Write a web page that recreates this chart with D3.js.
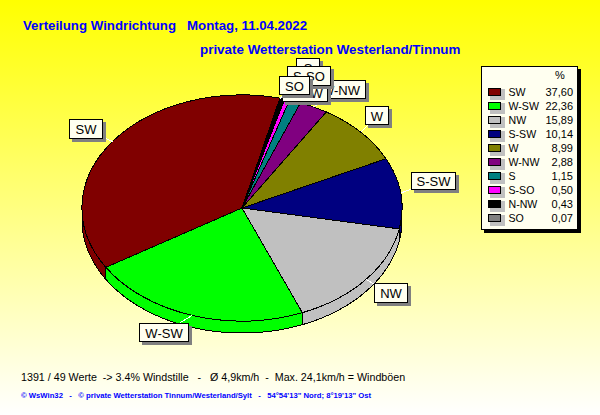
<!DOCTYPE html>
<html><head><meta charset="utf-8">
<script src="https://cdn.jsdelivr.net/npm/d3@7"></script>
<style>html,body{margin:0;padding:0}svg{display:block}text{font-family:"Liberation Sans",Arial,sans-serif}</style>
</head><body><svg id="c" width="600" height="415"></svg>
<script>
(function(){
const categories=["SW","W-SW","NW","S-SW","W","W-NW","S","S-SO","N-NW","SO"];
const percentValues=[37.60,22.36,15.89,10.14,8.99,2.88,1.15,0.50,0.43,0.07];
const percentLabels=["37,60","22,36","15,89","10,14","8,99","2,88","1,15","0,50","0,43","0,07"];
const sliceColors=["#800000","#00ff00","#c0c0c0","#000080","#808000","#800080","#008080","#ff00ff","#000000","#808080"];
const titleLine1="Verteilung Windrichtung   Montag, 11.04.2022";
const titleLine2="private Wetterstation Westerland/Tinnum";
const footer1="1391 / 49 Werte  -> 3.4% Windstille   -   Ø 4,9km/h  -  Max. 24,1km/h = Windböen";
const footer2="© WsWin32   -   © private Wetterstation Tinnum/Westerland/Sylt   -   54°54'13\" Nord; 8°19'13\" Ost";
// label boxes in stacking order: name, left, top, right, bottom
const labelBoxes=[["SW",69,119,103,139],["W-SW",139,323,189,342],["NW",374,283,408,303],["S-SW",411,172,456,190],["W",365,106,389,125],["W-NW",316,80,366,99],["S",296,58,320,78],["N-NW",282,83,328,102],["S-SO",287,66,331,86],["SO",279,76,310,95]];

const svg=d3.select("#c");
const defs=svg.append("defs");
const grad=defs.append("linearGradient").attr("id","bg").attr("x1",0).attr("y1",0).attr("x2",0).attr("y2",1);
grad.append("stop").attr("offset","0").attr("stop-color","#ffff00");
grad.append("stop").attr("offset","1").attr("stop-color","#ffffff");
svg.append("rect").attr("width",600).attr("height",415).attr("fill","url(#bg)");

svg.append("text").attr("x",23).attr("y",30).attr("fill","#0000ff").attr("font-weight","bold").attr("font-size",13.25).style("white-space","pre").text(titleLine1);
svg.append("text").attr("x",200).attr("y",54).attr("fill","#0000ff").attr("font-weight","bold").attr("font-size",13.4).style("white-space","pre").text(titleLine2);

const cx=242,cy=208,rx=160,ry=113,depth=12;
const startDeg=13.7;
const pie=d3.pie().sort(null).startAngle(startDeg*Math.PI/180).endAngle((startDeg-360)*Math.PI/180);
const arcs=pie(percentValues);
const xS=d3.scaleLinear().domain([-1,1]).range([cx-rx,cx+rx]);
const yS=d3.scaleLinear().domain([-1,1]).range([cy-ry,cy+ry]);
const px=a=>xS(Math.sin(a)), py=a=>yS(-Math.cos(a));
const chart=svg.append("g").attr("shape-rendering","crispEdges");

arcs.forEach((d,i)=>{
  const hi=d.startAngle, lo=d.endAngle;
  const pts=[];
  const n=Math.max(2,Math.ceil(Math.abs(hi-lo)*60));
  d3.range(n+1).forEach(k=>{
    const a=hi+(lo-hi)*k/n;
    if(Math.cos(a)<=0.02) pts.push(a);
  });
  if(pts.length<2) return;
  const upper=pts.map(a=>[px(a),py(a)]);
  const lower=pts.map(a=>[px(a),py(a)+depth]).reverse();
  chart.append("path").datum(upper.concat(lower)).attr("d",d3.line().curve(d3.curveLinearClosed))
    .attr("fill",sliceColors[i]).attr("stroke","#000").attr("stroke-width",1);
});
const arcGen=d3.arc().innerRadius(0).outerRadius(1);
const face=chart.append("g").attr("transform",`translate(${cx},${cy}) scale(${rx},${ry})`);
face.selectAll("path").data(arcs).join("path").attr("d",arcGen)
  .attr("fill",(d,i)=>sliceColors[i]).attr("stroke","#000").attr("stroke-width",1).attr("vector-effect","non-scaling-stroke");

const lg=svg.append("g");
labelBoxes.forEach(b=>{
  const d=arcs[categories.indexOf(b[0])],m=(d.startAngle+d.endAngle)/2;
  lg.append("line").attr("x1",px(m)).attr("y1",py(m)).attr("x2",(b[1]+b[3])/2).attr("y2",(b[2]+b[4])/2).attr("stroke","#ffffff").attr("shape-rendering","crispEdges");
});
labelBoxes.forEach(b=>{
  const [name,l,t,r,bt]=b;
  const g=lg.append("g").attr("shape-rendering","crispEdges");
  g.append("rect").attr("x",l+3).attr("y",t+3).attr("width",r-l).attr("height",bt-t).attr("fill","#808080");
  g.append("rect").attr("x",l+.5).attr("y",t+.5).attr("width",r-l-1).attr("height",bt-t-1).attr("fill","#fffff0").attr("stroke","#000");
  lg.append("text").attr("x",(l+r)/2).attr("y",(t+bt)/2+5).attr("text-anchor","middle").attr("font-size",13).attr("fill","#000").text(name);
});

const legend=svg.append("g");
const bandY=d3.scaleBand().domain(categories).range([85,225]);
const lc=legend.append("g").attr("shape-rendering","crispEdges");
lc.append("rect").attr("x",484).attr("y",69).attr("width",97).attr("height",164).attr("fill","#000");
lc.append("rect").attr("x",481.5).attr("y",66.5).attr("width",96).attr("height",163).attr("fill","#fffff0").attr("stroke","#000");
legend.append("text").attr("x",560).attr("y",79).attr("font-size",11).attr("text-anchor","middle").text("%");
categories.forEach((c,i)=>{
  const y=bandY(c)+bandY.bandwidth()/2;
  lc.append("rect").attr("x",490).attr("y",y-3).attr("width",15).attr("height",11).attr("fill","#c0c0c0");
  lc.append("rect").attr("x",488.5).attr("y",y-3.5).attr("width",12).attr("height",7).attr("fill",sliceColors[i]).attr("stroke","#000");
  legend.append("text").attr("x",508.5).attr("y",y+4).attr("font-size",10.6).text(c);
  legend.append("text").attr("x",573).attr("y",y+4).attr("font-size",11).attr("text-anchor","end").text(percentLabels[i]);
});

svg.append("text").attr("x",21).attr("y",381).attr("font-size",10.7).attr("fill","#000").style("white-space","pre").text(footer1);
svg.append("text").attr("x",21).attr("y",398).attr("font-size",7.7).attr("font-weight","bold").attr("fill","#0000ff").style("white-space","pre").text(footer2);
})();
</script></body></html>
